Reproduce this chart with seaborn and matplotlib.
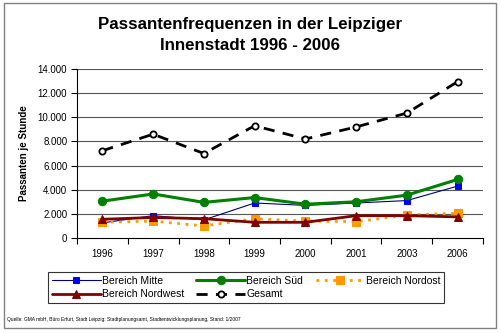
import matplotlib
matplotlib.use("Agg")
import matplotlib.pyplot as plt
import seaborn as sns
import numpy as np
import pandas as pd
from matplotlib.ticker import FuncFormatter, FixedLocator
from matplotlib.patches import Rectangle

years = ["1996", "1997", "1998", "1999", "2000", "2001", "2003", "2006"]
mitte = [1250, 1850, 1500, 2900, 2700, 2900, 3100, 4300]
sued = [3050, 3650, 2950, 3350, 2800, 3000, 3550, 4850]
nordost = [1300, 1400, 1000, 1600, 1400, 1350, 1900, 2050]
nordwest = [1550, 1700, 1600, 1300, 1300, 1850, 1850, 1750]
gesamt = [7230, 8600, 7000, 9300, 8200, 9200, 10350, 12950]
yticks = [0, 2000, 4000, 6000, 8000, 10000, 12000, 14000]

sns.set_theme(style="white")
plt.rcParams['font.family'] = ['Liberation Sans', 'DejaVu Sans']
plt.rcParams['text.color'] = 'black'

fig = plt.figure(figsize=(5.01, 3.33), dpi=100)
ax = fig.add_axes([77/501, 1-238/333, 406/501, 169/333])

# outer frame
fig.patches.append(Rectangle((4/501, 5/333), 492/501, 325/333, transform=fig.transFigure,
                             fill=False, edgecolor="#808080", lw=1.0))

for v in yticks[1:]:
    ax.axhline(v, color="#555555", lw=0.8, zorder=0)

series = [
    ("Bereich Mitte", mitte, dict(color="#000080", lw=0.8, ls="-", marker="s", ms=5,
                                  markerfacecolor="#0000FF", markeredgecolor="#0000FF")),
    ("Bereich Süd", sued, dict(color="#008000", lw=2.2, ls="-", marker="o", ms=6,
                               markerfacecolor="#008000", markeredgecolor="#008000")),
    ("Bereich Nordost", nordost, dict(color="#FF9900", lw=2.0, ls=(0, (1, 2)), marker="s", ms=6,
                                      markerfacecolor="#FF9900", markeredgecolor="#FF9900")),
    ("Bereich Nordwest", nordwest, dict(color="#800000", lw=2.0, ls="-", marker="^", ms=6,
                                        markerfacecolor="#800000", markeredgecolor="#800000")),
    ("Gesamt", gesamt, dict(color="black", lw=2.0, ls=(0, (4, 3)), marker="o", ms=4.5,
                            markerfacecolor="white", markeredgecolor="black", markeredgewidth=1.3)),
]
for name, vals, kw in series:
    df = pd.DataFrame({"Jahr": years, "Wert": vals})
    sns.lineplot(data=df, x="Jahr", y="Wert", ax=ax, label=name, sort=False, **kw)

ax.set_xlim(-0.5, len(years) - 0.5)
ax.set_ylim(0, 14000)
ax.set_yticks(yticks)
ax.yaxis.set_major_formatter(FuncFormatter(lambda v, p: f"{int(v):,}".replace(",", ".")))
ax.set_xticks(range(len(years)))
ax.set_xticklabels(years)
ax.xaxis.set_minor_locator(FixedLocator(np.arange(-0.5, len(years), 1.0)))
ax.tick_params(axis="x", which="major", length=0, labelsize=7, pad=8, colors="black")
ax.tick_params(axis="x", which="minor", length=4, width=0.8, direction="out", color="black", bottom=True)
ax.tick_params(axis="y", which="major", length=4, width=0.8, direction="out", labelsize=7, pad=3,
               colors="black", left=True)
ax.set_xlabel("")
ax.set_ylabel("Passanten je Stunde", fontsize=7, fontweight="bold", labelpad=6, color="black")

for s in ["top", "right"]:
    ax.spines[s].set_visible(False)
ax.spines["left"].set_color("black")
ax.spines["bottom"].set_color("black")
ax.spines["left"].set_linewidth(0.8)
ax.spines["bottom"].set_linewidth(0.8)

fig.text(0.5, 1-25/333, "Passantenfrequenzen in der Leipziger", ha="center", va="center",
         fontsize=12.2, fontweight="bold", color="black")
fig.text(0.5, 1-45/333, "Innenstadt 1996 - 2006", ha="center", va="center",
         fontsize=12.2, fontweight="bold", color="black")

ax.legend_.remove()
handles, labels = ax.get_legend_handles_labels()
order = [0, 3, 1, 4, 2]
leg = fig.legend([handles[i] for i in order], [labels[i] for i in order],
                 loc="center", bbox_to_anchor=(246/501, 1-287.5/333), ncol=3,
                 fontsize=7.5, frameon=True, fancybox=False, edgecolor="black",
                 handlelength=4.7, handletextpad=0.1, columnspacing=1.2, borderpad=0.35,
                 labelspacing=0.35)
leg.get_frame().set_linewidth(0.8)
for t in leg.get_texts():
    t.set_color("black")

fig.text(7/501, 1-319/333, "Quelle: GMA mbH, Büro Erfurt, Stadt Leipzig: Stadtplanungsamt, Stadtentwicklungsplanung, Stand: 1/2007",
         ha="left", va="center", fontsize=3.5, color="black")

fig.savefig("out.png", dpi=100)
